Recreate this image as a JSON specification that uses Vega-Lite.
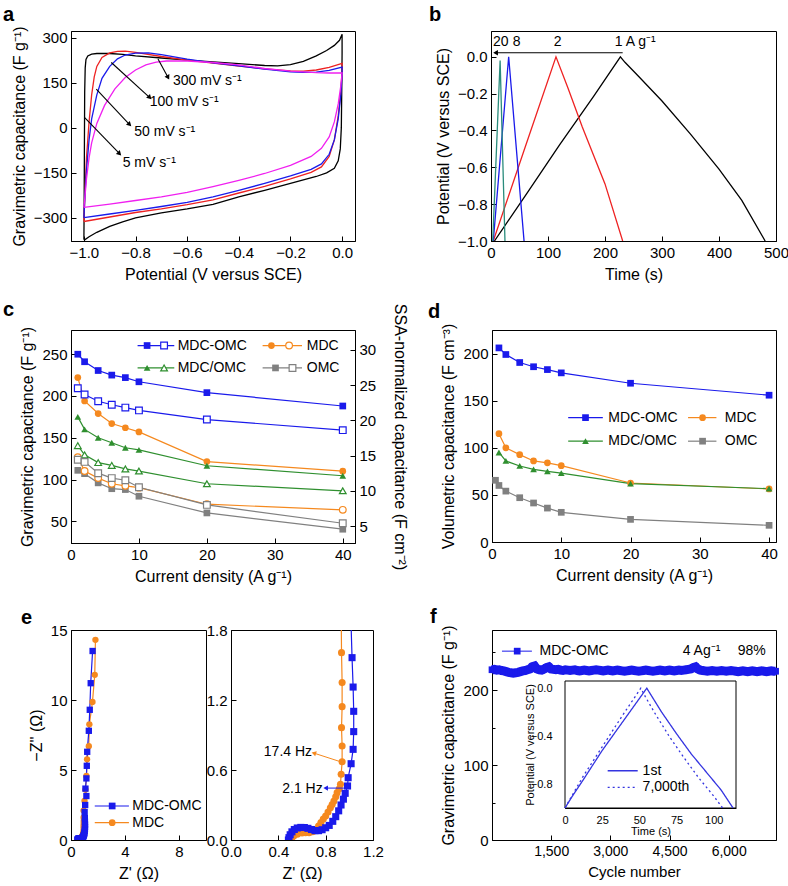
{
"$schema":"https://vega.github.io/schema/vega-lite/v6.json",
"background":"white",
"padding":{"left":2,"top":4,"right":4,"bottom":4},
"config":{
 "font":"Liberation Sans",
 "view":{"stroke":"black","strokeWidth":1},
 "axis":{"labelFont":"Liberation Sans","titleFont":"Liberation Sans","labelFontSize":15,"titleFontSize":16,"titleFontWeight":"normal","labelColor":"black","titleColor":"black","domainColor":"black","tickColor":"black","grid":false,"labelPadding":9,"titlePadding":6,"labelFlush":false,"labelOverlap":false,"tickSize":-5,"zindex":1},
 "title":{"anchor":"start","frame":"group","fontSize":20,"fontWeight":"bold","font":"Liberation Sans","color":"black","offset":6},
 "text":{"font":"Liberation Sans","fontSize":14,"color":"black"}
},
"datasets":{
 "cv":[
  {"r":"5","i":0,"x":-1.0,"y":-372},{"r":"5","i":1,"x":-0.999,"y":-250},{"r":"5","i":2,"x":-0.998,"y":-50},{"r":"5","i":3,"x":-0.997,"y":120},{"r":"5","i":4,"x":-0.995,"y":200},{"r":"5","i":5,"x":-0.992,"y":228},{"r":"5","i":6,"x":-0.985,"y":240},{"r":"5","i":7,"x":-0.97,"y":246},{"r":"5","i":8,"x":-0.95,"y":248},{"r":"5","i":9,"x":-0.9,"y":248},{"r":"5","i":10,"x":-0.85,"y":245},{"r":"5","i":11,"x":-0.8,"y":240},{"r":"5","i":12,"x":-0.7,"y":233},{"r":"5","i":13,"x":-0.6,"y":226},{"r":"5","i":14,"x":-0.5,"y":220},{"r":"5","i":15,"x":-0.4,"y":214},{"r":"5","i":16,"x":-0.3,"y":208},{"r":"5","i":17,"x":-0.25,"y":207},{"r":"5","i":18,"x":-0.2,"y":211},{"r":"5","i":19,"x":-0.15,"y":222},{"r":"5","i":20,"x":-0.1,"y":240},{"r":"5","i":21,"x":-0.06,"y":258},{"r":"5","i":22,"x":-0.03,"y":275},{"r":"5","i":23,"x":-0.01,"y":292},{"r":"5","i":24,"x":0.0,"y":312},{"r":"5","i":25,"x":0.0,"y":250},{"r":"5","i":26,"x":-0.001,"y":150},{"r":"5","i":27,"x":-0.003,"y":0},{"r":"5","i":28,"x":-0.007,"y":-70},{"r":"5","i":29,"x":-0.015,"y":-110},{"r":"5","i":30,"x":-0.03,"y":-135},{"r":"5","i":31,"x":-0.06,"y":-150},{"r":"5","i":32,"x":-0.1,"y":-162},{"r":"5","i":33,"x":-0.2,"y":-185},{"r":"5","i":34,"x":-0.3,"y":-208},{"r":"5","i":35,"x":-0.4,"y":-230},{"r":"5","i":36,"x":-0.5,"y":-255},{"r":"5","i":37,"x":-0.6,"y":-270},{"r":"5","i":38,"x":-0.7,"y":-283},{"r":"5","i":39,"x":-0.8,"y":-300},{"r":"5","i":40,"x":-0.85,"y":-313},{"r":"5","i":41,"x":-0.9,"y":-328},{"r":"5","i":42,"x":-0.95,"y":-348},{"r":"5","i":43,"x":-0.98,"y":-363},{"r":"5","i":44,"x":-1.0,"y":-375},
  {"r":"50","i":0,"x":-1.0,"y":-312},{"r":"50","i":1,"x":-0.995,"y":-200},{"r":"50","i":2,"x":-0.99,"y":-100},{"r":"50","i":3,"x":-0.98,"y":20},{"r":"50","i":4,"x":-0.97,"y":110},{"r":"50","i":5,"x":-0.96,"y":170},{"r":"50","i":6,"x":-0.95,"y":205},{"r":"50","i":7,"x":-0.93,"y":235},{"r":"50","i":8,"x":-0.9,"y":250},{"r":"50","i":9,"x":-0.87,"y":255},{"r":"50","i":10,"x":-0.84,"y":256},{"r":"50","i":11,"x":-0.8,"y":252},{"r":"50","i":12,"x":-0.7,"y":238},{"r":"50","i":13,"x":-0.6,"y":226},{"r":"50","i":14,"x":-0.5,"y":216},{"r":"50","i":15,"x":-0.4,"y":206},{"r":"50","i":16,"x":-0.3,"y":197},{"r":"50","i":17,"x":-0.2,"y":190},{"r":"50","i":18,"x":-0.15,"y":189},{"r":"50","i":19,"x":-0.1,"y":193},{"r":"50","i":20,"x":-0.05,"y":202},{"r":"50","i":21,"x":0.0,"y":215},{"r":"50","i":22,"x":0.0,"y":190},{"r":"50","i":23,"x":-0.005,"y":120},{"r":"50","i":24,"x":-0.015,"y":40},{"r":"50","i":25,"x":-0.03,"y":-40},{"r":"50","i":26,"x":-0.05,"y":-95},{"r":"50","i":27,"x":-0.08,"y":-130},{"r":"50","i":28,"x":-0.12,"y":-148},{"r":"50","i":29,"x":-0.2,"y":-170},{"r":"50","i":30,"x":-0.3,"y":-195},{"r":"50","i":31,"x":-0.4,"y":-217},{"r":"50","i":32,"x":-0.5,"y":-240},{"r":"50","i":33,"x":-0.6,"y":-256},{"r":"50","i":34,"x":-0.7,"y":-270},{"r":"50","i":35,"x":-0.8,"y":-282},{"r":"50","i":36,"x":-0.9,"y":-297},{"r":"50","i":37,"x":-1.0,"y":-312},
  {"r":"100","i":0,"x":-1.0,"y":-300},{"r":"100","i":1,"x":-0.995,"y":-210},{"r":"100","i":2,"x":-0.99,"y":-140},{"r":"100","i":3,"x":-0.98,"y":-40},{"r":"100","i":4,"x":-0.97,"y":30},{"r":"100","i":5,"x":-0.95,"y":110},{"r":"100","i":6,"x":-0.93,"y":165},{"r":"100","i":7,"x":-0.9,"y":205},{"r":"100","i":8,"x":-0.87,"y":230},{"r":"100","i":9,"x":-0.84,"y":243},{"r":"100","i":10,"x":-0.8,"y":249},{"r":"100","i":11,"x":-0.75,"y":250},{"r":"100","i":12,"x":-0.7,"y":244},{"r":"100","i":13,"x":-0.6,"y":229},{"r":"100","i":14,"x":-0.5,"y":217},{"r":"100","i":15,"x":-0.4,"y":207},{"r":"100","i":16,"x":-0.3,"y":196},{"r":"100","i":17,"x":-0.2,"y":187},{"r":"100","i":18,"x":-0.15,"y":185},{"r":"100","i":19,"x":-0.1,"y":186},{"r":"100","i":20,"x":-0.05,"y":192},{"r":"100","i":21,"x":0.0,"y":203},{"r":"100","i":22,"x":0.0,"y":180},{"r":"100","i":23,"x":-0.005,"y":110},{"r":"100","i":24,"x":-0.015,"y":30},{"r":"100","i":25,"x":-0.03,"y":-40},{"r":"100","i":26,"x":-0.05,"y":-88},{"r":"100","i":27,"x":-0.08,"y":-120},{"r":"100","i":28,"x":-0.12,"y":-138},{"r":"100","i":29,"x":-0.2,"y":-160},{"r":"100","i":30,"x":-0.3,"y":-185},{"r":"100","i":31,"x":-0.4,"y":-208},{"r":"100","i":32,"x":-0.5,"y":-230},{"r":"100","i":33,"x":-0.6,"y":-248},{"r":"100","i":34,"x":-0.7,"y":-262},{"r":"100","i":35,"x":-0.8,"y":-275},{"r":"100","i":36,"x":-0.9,"y":-287},{"r":"100","i":37,"x":-1.0,"y":-299},
  {"r":"300","i":0,"x":-1.0,"y":-265},{"r":"300","i":1,"x":-0.995,"y":-220},{"r":"300","i":2,"x":-0.99,"y":-170},{"r":"300","i":3,"x":-0.98,"y":-100},{"r":"300","i":4,"x":-0.97,"y":-50},{"r":"300","i":5,"x":-0.95,"y":15},{"r":"300","i":6,"x":-0.92,"y":75},{"r":"300","i":7,"x":-0.88,"y":130},{"r":"300","i":8,"x":-0.84,"y":168},{"r":"300","i":9,"x":-0.8,"y":193},{"r":"300","i":10,"x":-0.76,"y":210},{"r":"300","i":11,"x":-0.72,"y":219},{"r":"300","i":12,"x":-0.68,"y":223},{"r":"300","i":13,"x":-0.6,"y":223},{"r":"300","i":14,"x":-0.5,"y":218},{"r":"300","i":15,"x":-0.4,"y":210},{"r":"300","i":16,"x":-0.3,"y":198},{"r":"300","i":17,"x":-0.2,"y":189},{"r":"300","i":18,"x":-0.1,"y":184},{"r":"300","i":19,"x":-0.05,"y":183},{"r":"300","i":20,"x":0.0,"y":183},{"r":"300","i":21,"x":-0.005,"y":140},{"r":"300","i":22,"x":-0.015,"y":80},{"r":"300","i":23,"x":-0.03,"y":20},{"r":"300","i":24,"x":-0.05,"y":-30},{"r":"300","i":25,"x":-0.08,"y":-68},{"r":"300","i":26,"x":-0.12,"y":-95},{"r":"300","i":27,"x":-0.2,"y":-125},{"r":"300","i":28,"x":-0.3,"y":-152},{"r":"300","i":29,"x":-0.4,"y":-175},{"r":"300","i":30,"x":-0.5,"y":-196},{"r":"300","i":31,"x":-0.6,"y":-215},{"r":"300","i":32,"x":-0.7,"y":-230},{"r":"300","i":33,"x":-0.8,"y":-242},{"r":"300","i":34,"x":-0.9,"y":-254},{"r":"300","i":35,"x":-1.0,"y":-265}
 ],
 "cvann":[
  {"x":-0.713,"y":230,"x2":-0.674,"y2":168,"label":"300 mV s⁻¹","tx":-0.655,"ty":157},
  {"x":-0.894,"y":218,"x2":-0.745,"y2":101,"label":"100 mV s⁻¹","tx":-0.745,"ty":88},
  {"x":-0.952,"y":129,"x2":-0.823,"y2":11,"label":"50 mV s⁻¹","tx":-0.805,"ty":-12},
  {"x":-0.997,"y":34,"x2":-0.862,"y2":-86,"label":"5 mV s⁻¹","tx":-0.85,"ty":-118}
 ],
 "gcd":[
  {"r":"1","i":0,"t":6,"v":-1.0},{"r":"1","i":1,"t":60,"v":-0.755},{"r":"1","i":2,"t":120,"v":-0.48},{"r":"1","i":3,"t":180,"v":-0.215},{"r":"1","i":4,"t":227,"v":0.0},{"r":"1","i":5,"t":235,"v":-0.03},{"r":"1","i":6,"t":260,"v":-0.11},{"r":"1","i":7,"t":300,"v":-0.24},{"r":"1","i":8,"t":350,"v":-0.42},{"r":"1","i":9,"t":400,"v":-0.61},{"r":"1","i":10,"t":440,"v":-0.78},{"r":"1","i":11,"t":481,"v":-1.0},
  {"r":"2","i":0,"t":4,"v":-1.0},{"r":"2","i":1,"t":60,"v":-0.49},{"r":"2","i":2,"t":114,"v":0.0},{"r":"2","i":3,"t":135,"v":-0.17},{"r":"2","i":4,"t":160,"v":-0.38},{"r":"2","i":5,"t":200,"v":-0.69},{"r":"2","i":6,"t":231,"v":-1.0},
  {"r":"8","i":0,"t":4,"v":-1.0},{"r":"8","i":1,"t":31,"v":0.0},{"r":"8","i":2,"t":58,"v":-1.0},
  {"r":"20","i":0,"t":3,"v":-1.0},{"r":"20","i":1,"t":16,"v":-0.02},{"r":"20","i":2,"t":24.5,"v":-1.0}
 ],
 "gcdann":[
  {"label":"20","t":17,"v":0.082},{"label":"8","t":45,"v":0.082},{"label":"2","t":117,"v":0.082},{"label":"1 A g⁻¹","t":253,"v":0.082}
 ],
 "gcdarrow":[{"t":231,"t2":8,"v":0.022}],
 "cden":[
  {"s":"MDC-OMC","x":1,"g":250,"a":24.55},{"s":"MDC-OMC","x":2,"g":241,"a":23.66},{"s":"MDC-OMC","x":4,"g":230.5,"a":22.7},{"s":"MDC-OMC","x":6,"g":225,"a":22.2},{"s":"MDC-OMC","x":8,"g":222,"a":21.8},{"s":"MDC-OMC","x":10,"g":217,"a":21.4},{"s":"MDC-OMC","x":20,"g":204,"a":20.1},{"s":"MDC-OMC","x":40,"g":188,"a":18.6},
  {"s":"MDC","x":1,"g":222,"a":14.75},{"s":"MDC","x":2,"g":194,"a":12.8},{"s":"MDC","x":4,"g":179,"a":11.8},{"s":"MDC","x":6,"g":167,"a":11.0},{"s":"MDC","x":8,"g":162,"a":10.7},{"s":"MDC","x":10,"g":157,"a":10.45},{"s":"MDC","x":20,"g":121.5,"a":8.1},{"s":"MDC","x":40,"g":110,"a":7.3},
  {"s":"MDC/OMC","x":1,"g":175,"a":16.4},{"s":"MDC/OMC","x":2,"g":160,"a":15.1},{"s":"MDC/OMC","x":4,"g":150,"a":14.0},{"s":"MDC/OMC","x":6,"g":144,"a":13.6},{"s":"MDC/OMC","x":8,"g":138,"a":13.1},{"s":"MDC/OMC","x":10,"g":135.5,"a":12.8},{"s":"MDC/OMC","x":20,"g":116.5,"a":11.0},{"s":"MDC/OMC","x":40,"g":104.5,"a":10.0},
  {"s":"OMC","x":1,"g":111,"a":14.4},{"s":"OMC","x":2,"g":107,"a":14.1},{"s":"OMC","x":4,"g":96,"a":12.5},{"s":"OMC","x":6,"g":89,"a":11.8},{"s":"OMC","x":8,"g":88,"a":11.5},{"s":"OMC","x":10,"g":80,"a":10.5},{"s":"OMC","x":20,"g":60,"a":8.0},{"s":"OMC","x":40,"g":40.5,"a":5.4}
 ],
 "cleg":[
  {"s":"MDC-OMC","x1":9.8,"x2":15.2,"xf":11.2,"xo":13.7,"xt":15.7,"y":260.4},
  {"s":"MDC","x1":28.2,"x2":34.0,"xf":29.5,"xo":32.1,"xt":34.7,"y":260.4},
  {"s":"MDC/OMC","x1":9.8,"x2":15.2,"xf":11.2,"xo":13.7,"xt":15.7,"y":233.6},
  {"s":"OMC","x1":28.2,"x2":34.0,"xf":30.1,"xo":32.6,"xt":34.7,"y":233.6}
 ],
 "dden":[
  {"s":"MDC-OMC","x":1,"v":206},{"s":"MDC-OMC","x":2,"v":199},{"s":"MDC-OMC","x":4,"v":190.5},{"s":"MDC-OMC","x":6,"v":186},{"s":"MDC-OMC","x":8,"v":183},{"s":"MDC-OMC","x":10,"v":179.5},{"s":"MDC-OMC","x":20,"v":168.5},{"s":"MDC-OMC","x":40,"v":155.8},
  {"s":"MDC","x":1,"v":115},{"s":"MDC","x":2,"v":100},{"s":"MDC","x":4,"v":92.7},{"s":"MDC","x":6,"v":86},{"s":"MDC","x":8,"v":84},{"s":"MDC","x":10,"v":81},{"s":"MDC","x":20,"v":62.6},{"s":"MDC","x":40,"v":56.3},
  {"s":"MDC/OMC","x":1,"v":95},{"s":"MDC/OMC","x":2,"v":86},{"s":"MDC/OMC","x":4,"v":80.7},{"s":"MDC/OMC","x":6,"v":77},{"s":"MDC/OMC","x":8,"v":75},{"s":"MDC/OMC","x":10,"v":73},{"s":"MDC/OMC","x":20,"v":62},{"s":"MDC/OMC","x":40,"v":56.6},
  {"s":"OMC","x":0.5,"v":65.5},{"s":"OMC","x":1,"v":60},{"s":"OMC","x":2,"v":54},{"s":"OMC","x":4,"v":47},{"s":"OMC","x":6,"v":41.4},{"s":"OMC","x":8,"v":36},{"s":"OMC","x":10,"v":31.5},{"s":"OMC","x":20,"v":24},{"s":"OMC","x":40,"v":17.7}
 ],
 "dleg":[
  {"s":"MDC-OMC","x1":11.0,"x2":16.0,"xm":13.5,"xt":16.8,"y":132},
  {"s":"MDC","x1":28.3,"x2":32.4,"xm":30.4,"xt":33.6,"y":132},
  {"s":"MDC/OMC","x1":11.0,"x2":16.0,"xm":13.5,"xt":16.8,"y":107},
  {"s":"OMC","x1":28.3,"x2":32.4,"xm":30.4,"xt":33.6,"y":107}
 ],
 "nyq":[
  {"s":"MDC","i":0,"x":0.505,"y":0.0},{"s":"MDC","i":1,"x":0.515,"y":0.02},{"s":"MDC","i":2,"x":0.53,"y":0.035},{"s":"MDC","i":3,"x":0.56,"y":0.05},{"s":"MDC","i":4,"x":0.6,"y":0.06},{"s":"MDC","i":5,"x":0.63,"y":0.063},{"s":"MDC","i":6,"x":0.66,"y":0.062},{"s":"MDC","i":7,"x":0.69,"y":0.07},{"s":"MDC","i":8,"x":0.715,"y":0.09},{"s":"MDC","i":9,"x":0.74,"y":0.12},{"s":"MDC","i":10,"x":0.76,"y":0.15},{"s":"MDC","i":11,"x":0.78,"y":0.18},{"s":"MDC","i":12,"x":0.8,"y":0.206},{"s":"MDC","i":13,"x":0.82,"y":0.24},{"s":"MDC","i":14,"x":0.84,"y":0.277},{"s":"MDC","i":15,"x":0.855,"y":0.305},{"s":"MDC","i":16,"x":0.87,"y":0.334},{"s":"MDC","i":17,"x":0.885,"y":0.37},{"s":"MDC","i":18,"x":0.897,"y":0.406},{"s":"MDC","i":19,"x":0.915,"y":0.44},{"s":"MDC","i":20,"x":0.925,"y":0.477},{"s":"MDC","i":21,"x":0.931,"y":0.563},{"s":"MDC","i":22,"x":0.939,"y":0.671},{"s":"MDC","i":23,"x":0.939,"y":0.806},{"s":"MDC","i":24,"x":0.934,"y":0.963},{"s":"MDC","i":25,"x":0.939,"y":1.143},{"s":"MDC","i":26,"x":0.939,"y":1.349},{"s":"MDC","i":27,"x":0.934,"y":1.606},{"s":"MDC","i":28,"x":0.93,"y":2.1},{"s":"MDC","i":29,"x":1.0,"y":2.8},{"s":"MDC","i":30,"x":1.07,"y":3.6},{"s":"MDC","i":31,"x":1.14,"y":4.57},{"s":"MDC","i":32,"x":1.19,"y":5.76},{"s":"MDC","i":33,"x":1.32,"y":6.7},{"s":"MDC","i":34,"x":1.36,"y":8.26},{"s":"MDC","i":35,"x":1.59,"y":9.86},{"s":"MDC","i":36,"x":1.76,"y":11.8},{"s":"MDC","i":37,"x":1.81,"y":14.3},
  {"s":"MDC-OMC","i":0,"x":0.485,"y":0.0},{"s":"MDC-OMC","i":1,"x":0.49,"y":0.02},{"s":"MDC-OMC","i":2,"x":0.5,"y":0.045},{"s":"MDC-OMC","i":3,"x":0.515,"y":0.07},{"s":"MDC-OMC","i":4,"x":0.535,"y":0.09},{"s":"MDC-OMC","i":5,"x":0.56,"y":0.103},{"s":"MDC-OMC","i":6,"x":0.59,"y":0.108},{"s":"MDC-OMC","i":7,"x":0.62,"y":0.107},{"s":"MDC-OMC","i":8,"x":0.65,"y":0.1},{"s":"MDC-OMC","i":9,"x":0.68,"y":0.09},{"s":"MDC-OMC","i":10,"x":0.71,"y":0.08},{"s":"MDC-OMC","i":11,"x":0.74,"y":0.08},{"s":"MDC-OMC","i":12,"x":0.77,"y":0.088},{"s":"MDC-OMC","i":13,"x":0.8,"y":0.105},{"s":"MDC-OMC","i":14,"x":0.83,"y":0.125},{"s":"MDC-OMC","i":15,"x":0.86,"y":0.16},{"s":"MDC-OMC","i":16,"x":0.885,"y":0.2},{"s":"MDC-OMC","i":17,"x":0.91,"y":0.25},{"s":"MDC-OMC","i":18,"x":0.93,"y":0.3},{"s":"MDC-OMC","i":19,"x":0.95,"y":0.35},{"s":"MDC-OMC","i":20,"x":0.965,"y":0.4},{"s":"MDC-OMC","i":21,"x":0.985,"y":0.463},{"s":"MDC-OMC","i":22,"x":0.99,"y":0.534},{"s":"MDC-OMC","i":23,"x":1.015,"y":0.654},{"s":"MDC-OMC","i":24,"x":1.032,"y":0.777},{"s":"MDC-OMC","i":25,"x":1.037,"y":0.929},{"s":"MDC-OMC","i":26,"x":1.037,"y":1.103},{"s":"MDC-OMC","i":27,"x":1.032,"y":1.311},{"s":"MDC-OMC","i":28,"x":1.023,"y":1.563},{"s":"MDC-OMC","i":29,"x":1.01,"y":2.0},{"s":"MDC-OMC","i":30,"x":1.05,"y":2.5},{"s":"MDC-OMC","i":31,"x":1.14,"y":3.14},{"s":"MDC-OMC","i":32,"x":1.07,"y":3.67},{"s":"MDC-OMC","i":33,"x":1.14,"y":4.4},{"s":"MDC-OMC","i":34,"x":1.17,"y":5.3},{"s":"MDC-OMC","i":35,"x":1.2,"y":6.3},{"s":"MDC-OMC","i":36,"x":1.32,"y":7.8},{"s":"MDC-OMC","i":37,"x":1.39,"y":9.3},{"s":"MDC-OMC","i":38,"x":1.46,"y":11.2},{"s":"MDC-OMC","i":39,"x":1.6,"y":13.5}
 ],
 "eleg":[
  {"s":"MDC-OMC","x1":1.76,"x2":4.29,"xm":3.05,"xt":4.54,"y":2.43},
  {"s":"MDC","x1":1.76,"x2":4.29,"xm":3.05,"xt":4.54,"y":1.24}
 ],
 "eann":[
  {"s":"MDC","x":0.925,"y":0.671,"x2":0.70,"y2":0.745,"label":"17.4 Hz","tx":0.685,"ty":0.757},
  {"s":"MDC-OMC","x":0.975,"y":0.445,"x2":0.8,"y2":0.445,"label":"2.1 Hz","tx":0.775,"ty":0.44}
 ],
 "cyc":[
  {"c":0,"y":227},{"c":60,"y":227.5},{"c":120,"y":226.5},{"c":180,"y":227},{"c":240,"y":226},{"c":300,"y":225.5},{"c":360,"y":224.5},{"c":420,"y":223.5},{"c":480,"y":223},{"c":540,"y":222.5},{"c":600,"y":223},{"c":660,"y":223.5},{"c":720,"y":224.5},{"c":780,"y":225.5},{"c":840,"y":226},{"c":900,"y":227},{"c":960,"y":228},{"c":1020,"y":231},{"c":1080,"y":232},{"c":1140,"y":228},{"c":1200,"y":227},{"c":1260,"y":226.5},{"c":1320,"y":228},{"c":1380,"y":230},{"c":1440,"y":231},{"c":1500,"y":228},{"c":1560,"y":227.5},{"c":1620,"y":227},{"c":1680,"y":227.5},{"c":1740,"y":226.5},{"c":1800,"y":226},{"c":1860,"y":227},{"c":1920,"y":226.5},{"c":1980,"y":226},{"c":2040,"y":226.5},{"c":2100,"y":227},{"c":2160,"y":226},{"c":2220,"y":225.5},{"c":2280,"y":226},{"c":2340,"y":226.5},{"c":2400,"y":226},{"c":2460,"y":225.5},{"c":2520,"y":226},{"c":2580,"y":226.5},{"c":2640,"y":227},{"c":2700,"y":226.5},{"c":2760,"y":226},{"c":2820,"y":225.5},{"c":2880,"y":226},{"c":2940,"y":226.5},{"c":3000,"y":226},{"c":3060,"y":225.5},{"c":3120,"y":226},{"c":3180,"y":226.5},{"c":3240,"y":226},{"c":3300,"y":225.5},{"c":3360,"y":225},{"c":3420,"y":225.5},{"c":3480,"y":226},{"c":3540,"y":226.5},{"c":3600,"y":226},{"c":3660,"y":225.5},{"c":3720,"y":225},{"c":3780,"y":225.5},{"c":3840,"y":226},{"c":3900,"y":226.5},{"c":3960,"y":226},{"c":4020,"y":225.5},{"c":4080,"y":225},{"c":4140,"y":225.5},{"c":4200,"y":226},{"c":4260,"y":226.5},{"c":4320,"y":226},{"c":4380,"y":225.5},{"c":4440,"y":226},{"c":4500,"y":226.5},{"c":4560,"y":226},{"c":4620,"y":225.5},{"c":4680,"y":226},{"c":4740,"y":226.5},{"c":4800,"y":226},{"c":4860,"y":226.5},{"c":4920,"y":227},{"c":4980,"y":227.5},{"c":5040,"y":228},{"c":5100,"y":230},{"c":5160,"y":231},{"c":5220,"y":228},{"c":5280,"y":226.5},{"c":5340,"y":226},{"c":5400,"y":225.5},{"c":5460,"y":225},{"c":5520,"y":225.5},{"c":5580,"y":226},{"c":5640,"y":225.5},{"c":5700,"y":225},{"c":5760,"y":225.5},{"c":5820,"y":226},{"c":5880,"y":225.5},{"c":5940,"y":225},{"c":6000,"y":225.5},{"c":6060,"y":226},{"c":6120,"y":225.5},{"c":6180,"y":225},{"c":6240,"y":224.5},{"c":6300,"y":225},{"c":6360,"y":225.5},{"c":6420,"y":225},{"c":6480,"y":224.5},{"c":6540,"y":225},{"c":6600,"y":225.5},{"c":6660,"y":225},{"c":6720,"y":224.5},{"c":6780,"y":225},{"c":6840,"y":225.5},{"c":6900,"y":225},{"c":6960,"y":224.5},{"c":7020,"y":225},{"c":7080,"y":225.5},{"c":7140,"y":225},{"c":7190,"y":225}
 ],
 "fline":[{"x1":253,"x2":1012,"xm":639,"y":251.8}],
 "ftext":[{"label":"MDC-OMC","c":1204,"y":251.8},{"label":"4 Ag⁻¹","c":4835,"y":251.8},{"label":"98%","c":6228,"y":251.8}],
 "ins":[
  {"s":"1st","i":0,"t":0,"v":-1.0},{"s":"1st","i":1,"t":5,"v":-0.9},{"s":"1st","i":2,"t":12,"v":-0.77},{"s":"1st","i":3,"t":25,"v":-0.52},{"s":"1st","i":4,"t":40,"v":-0.26},{"s":"1st","i":5,"t":55,"v":0.0},{"s":"1st","i":6,"t":58,"v":-0.06},{"s":"1st","i":7,"t":65,"v":-0.2},{"s":"1st","i":8,"t":75,"v":-0.38},{"s":"1st","i":9,"t":85,"v":-0.55},{"s":"1st","i":10,"t":95,"v":-0.7},{"s":"1st","i":11,"t":105,"v":-0.85},{"s":"1st","i":12,"t":113,"v":-1.0},
  {"s":"7,000th","i":0,"t":0,"v":-1.0},{"s":"7,000th","i":1,"t":5,"v":-0.89},{"s":"7,000th","i":2,"t":12,"v":-0.74},{"s":"7,000th","i":3,"t":25,"v":-0.49},{"s":"7,000th","i":4,"t":38,"v":-0.24},{"s":"7,000th","i":5,"t":51,"v":0.0},{"s":"7,000th","i":6,"t":54,"v":-0.07},{"s":"7,000th","i":7,"t":60,"v":-0.2},{"s":"7,000th","i":8,"t":70,"v":-0.4},{"s":"7,000th","i":9,"t":80,"v":-0.58},{"s":"7,000th","i":10,"t":90,"v":-0.75},{"s":"7,000th","i":11,"t":100,"v":-0.9},{"s":"7,000th","i":12,"t":106,"v":-1.0}
 ],
 "insleg":[{"s":"1st","x1":28.7,"x2":48.9,"xt":52.2,"y":-0.689},{"s":"7,000th","x1":28.7,"x2":48.9,"xt":52.2,"y":-0.828}]
},
"spacing":21,
"resolve":{"scale":{"color":"independent","shape":"independent","stroke":"independent","strokeDash":"independent"}},
"vconcat":[
 {"spacing":16,"resolve":{"scale":{"color":"independent","shape":"independent","stroke":"independent","strokeDash":"independent"}},
  "vconcat":[
  {"spacing":72,"resolve":{"scale":{"color":"independent","shape":"independent","stroke":"independent","strokeDash":"independent"}},
   "hconcat":[
   {"width":284,"height":210,"title":{"text":"a","dx":-68,"offset":1},
    "layer":[
     {"data":{"name":"cv"},"mark":{"type":"line","strokeWidth":1.3,"clip":true},
      "encoding":{
       "x":{"field":"x","type":"quantitative","scale":{"domain":[-1.05,0.05],"nice":false,"zero":false},"axis":{"title":"Potential (V versus SCE)","values":[-1,-0.9,-0.8,-0.7,-0.6,-0.5,-0.4,-0.3,-0.2,-0.1,0],"labelExpr":"round(datum.value*10)%2===0 ? format(datum.value,'.1f') : ''","tickSize":{"condition":{"test":"round(datum.value*10)%2!==0","value":-3},"value":-5}}},
       "y":{"field":"y","type":"quantitative","scale":{"domain":[-377,323],"nice":false,"zero":false},"axis":{"title":"Gravimetric capacitance (F g⁻¹)","values":[-300,-225,-150,-75,0,75,150,225,300],"labelExpr":"datum.value%150===0 ? datum.label : ''","tickSize":{"condition":{"test":"datum.value%150!==0","value":-3},"value":-5}}},
       "color":{"field":"r","type":"nominal","scale":{"domain":["300","100","50","5"],"range":["#f020f0","#1a1aeb","#ee2222","#000000"]},"legend":null},
       "order":{"field":"i","type":"quantitative"}}},
     {"data":{"name":"cvann"},"mark":{"type":"rule","strokeWidth":1.1,"color":"black"},
      "encoding":{"x":{"field":"x","type":"quantitative"},"x2":{"field":"x2"},"y":{"field":"y","type":"quantitative"},"y2":{"field":"y2"}}},
     {"data":{"name":"cvann"},"transform":[{"filter":"datum.y2 < 150"}],"mark":{"type":"point","shape":"triangle-right","filled":true,"size":30,"angle":45,"color":"black","opacity":1},
      "encoding":{"x":{"field":"x2","type":"quantitative"},"y":{"field":"y2","type":"quantitative"}}},
     {"data":{"name":"cvann"},"transform":[{"filter":"datum.y2 >= 150"}],"mark":{"type":"point","shape":"triangle-right","filled":true,"size":30,"angle":62,"color":"black","opacity":1},
      "encoding":{"x":{"field":"x2","type":"quantitative"},"y":{"field":"y2","type":"quantitative"}}},
     {"data":{"name":"cvann"},"mark":{"type":"text","align":"left","baseline":"middle","fontSize":14},
      "encoding":{"x":{"field":"tx","type":"quantitative"},"y":{"field":"ty","type":"quantitative"},"text":{"field":"label"}}}
    ]},
   {"width":285,"height":210,"title":{"text":"b","dx":-62,"offset":6},
    "layer":[
     {"data":{"name":"gcd"},"mark":{"type":"line","strokeWidth":1.3,"clip":true},
      "encoding":{
       "x":{"field":"t","type":"quantitative","scale":{"domain":[0,500],"nice":false,"zero":false},"axis":{"title":"Time (s)","values":[0,50,100,150,200,250,300,350,400,450,500],"labelExpr":"datum.value%100===0 ? datum.label : ''","tickSize":{"condition":{"test":"datum.value%100!==0","value":-3},"value":-5}}},
       "y":{"field":"v","type":"quantitative","scale":{"domain":[-1.0,0.14],"nice":false,"zero":false},"axis":{"title":"Potential (V versus SCE)","values":[-1,-0.9,-0.8,-0.7,-0.6,-0.5,-0.4,-0.3,-0.2,-0.1,0,0.1],"labelExpr":"round(datum.value*10)%2===0 ? format(datum.value,'.1f') : ''","tickSize":{"condition":{"test":"round(datum.value*10)%2!==0","value":-3},"value":-5}}},
       "color":{"field":"r","type":"nominal","scale":{"domain":["1","2","8","20"],"range":["#000000","#ee2222","#1a1aeb","#2a8c7c"]},"legend":null},
       "order":{"field":"i","type":"quantitative"}}},
     {"data":{"name":"gcdarrow"},"mark":{"type":"rule","strokeWidth":1.1,"color":"black"},
      "encoding":{"x":{"field":"t","type":"quantitative"},"x2":{"field":"t2"},"y":{"field":"v","type":"quantitative"}}},
     {"data":{"name":"gcdarrow"},"mark":{"type":"point","shape":"triangle-left","filled":true,"size":30,"color":"black","opacity":1},
      "encoding":{"x":{"field":"t2","type":"quantitative"},"y":{"field":"v","type":"quantitative"}}},
     {"data":{"name":"gcdann"},"mark":{"type":"text","align":"center","baseline":"middle","fontSize":14},
      "encoding":{"x":{"field":"t","type":"quantitative"},"y":{"field":"v","type":"quantitative"},"text":{"field":"label"}}}
    ]}
  ]},
  {"spacing":18,"resolve":{"scale":{"color":"independent","shape":"independent","stroke":"independent","strokeDash":"independent"}},
   "hconcat":[
   {"width":284,"height":213,"title":{"text":"c","dx":-68,"offset":-17},
    "resolve":{"scale":{"y":"independent"}},
    "layer":[
     {"layer":[
      {"data":{"name":"cden"},"mark":{"type":"line","strokeWidth":1.2},
       "encoding":{
        "x":{"field":"x","type":"quantitative","scale":{"domain":[0,41.8],"nice":false,"zero":false},"axis":{"title":"Current density (A g⁻¹)","values":[0,2.5,5,7.5,10,12.5,15,17.5,20,22.5,25,27.5,30,32.5,35,37.5,40],"labelExpr":"datum.value%5===0 ? datum.label : ''","tickSize":{"condition":{"test":"datum.value%5!==0","value":-3},"value":-5}}},
        "y":{"field":"g","type":"quantitative","scale":{"domain":[24,279],"nice":false,"zero":false},"axis":{"title":"Gravimetric capacitance (F g⁻¹)","orient":"left","values":[50,75,100,125,150,175,200,225,250,275],"labelExpr":"datum.value%50===0 ? datum.label : ''","tickSize":{"condition":{"test":"datum.value%50!==0","value":-3},"value":-5}}},
        "color":{"field":"s","type":"nominal","scale":{"domain":["MDC-OMC","MDC","MDC/OMC","OMC"],"range":["#1a1aeb","#f5891f","#2f8f2f","#808080"]},"legend":null}}},
      {"data":{"name":"cden"},"mark":{"type":"point","filled":true,"size":45,"opacity":1},
       "encoding":{"x":{"field":"x","type":"quantitative"},"y":{"field":"g","type":"quantitative"},
        "color":{"field":"s","type":"nominal","scale":{"domain":["MDC-OMC","MDC","MDC/OMC","OMC"],"range":["#1a1aeb","#f5891f","#2f8f2f","#808080"]},"legend":null},
        "shape":{"field":"s","type":"nominal","scale":{"domain":["MDC-OMC","MDC","MDC/OMC","OMC"],"range":["square","circle","triangle-up","square"]},"legend":null}}},
      {"data":{"name":"cleg"},"mark":{"type":"rule","strokeWidth":1.2},
       "encoding":{"x":{"field":"x1","type":"quantitative"},"x2":{"field":"x2"},"y":{"field":"y","type":"quantitative"},
        "color":{"field":"s","type":"nominal","scale":{"domain":["MDC-OMC","MDC","MDC/OMC","OMC"],"range":["#1a1aeb","#f5891f","#2f8f2f","#808080"]},"legend":null}}},
      {"data":{"name":"cleg"},"mark":{"type":"point","filled":true,"size":45,"opacity":1},
       "encoding":{"x":{"field":"xf","type":"quantitative"},"y":{"field":"y","type":"quantitative"},
        "color":{"field":"s","type":"nominal","scale":{"domain":["MDC-OMC","MDC","MDC/OMC","OMC"],"range":["#1a1aeb","#f5891f","#2f8f2f","#808080"]},"legend":null},
        "shape":{"field":"s","type":"nominal","scale":{"domain":["MDC-OMC","MDC","MDC/OMC","OMC"],"range":["square","circle","triangle-up","square"]},"legend":null}}},
      {"data":{"name":"cleg"},"mark":{"type":"point","filled":true,"fill":"white","strokeWidth":1.2,"size":45,"opacity":1},
       "encoding":{"x":{"field":"xo","type":"quantitative"},"y":{"field":"y","type":"quantitative"},
        "stroke":{"field":"s","type":"nominal","scale":{"domain":["MDC-OMC","MDC","MDC/OMC","OMC"],"range":["#1a1aeb","#f5891f","#2f8f2f","#808080"]},"legend":null},
        "shape":{"field":"s","type":"nominal","scale":{"domain":["MDC-OMC","MDC","MDC/OMC","OMC"],"range":["square","circle","triangle-up","square"]},"legend":null}}},
      {"data":{"name":"cleg"},"mark":{"type":"text","align":"left","baseline":"middle","fontSize":14},
       "encoding":{"x":{"field":"xt","type":"quantitative"},"y":{"field":"y","type":"quantitative"},"text":{"field":"s"}}}
     ]},
     {"layer":[
      {"data":{"name":"cden"},"mark":{"type":"line","strokeWidth":1.2},
       "encoding":{"x":{"field":"x","type":"quantitative"},
        "y":{"field":"a","type":"quantitative","scale":{"domain":[2.6,32.8],"nice":false,"zero":false},"axis":{"title":"SSA-normalized capacitance (F cm⁻²)","orient":"right","titlePadding":16,"values":[5,7.5,10,12.5,15,17.5,20,22.5,25,27.5,30,32.5],"labelExpr":"datum.value%5===0 ? datum.label : ''","tickSize":{"condition":{"test":"datum.value%5!==0","value":-3},"value":-5}}},
        "color":{"field":"s","type":"nominal","scale":{"domain":["MDC-OMC","MDC","MDC/OMC","OMC"],"range":["#1a1aeb","#f5891f","#2f8f2f","#808080"]},"legend":null}}},
      {"data":{"name":"cden"},"mark":{"type":"point","filled":true,"fill":"white","strokeWidth":1.2,"size":45,"opacity":1},
       "encoding":{"x":{"field":"x","type":"quantitative"},"y":{"field":"a","type":"quantitative"},
        "stroke":{"field":"s","type":"nominal","scale":{"domain":["MDC-OMC","MDC","MDC/OMC","OMC"],"range":["#1a1aeb","#f5891f","#2f8f2f","#808080"]},"legend":null},
        "shape":{"field":"s","type":"nominal","scale":{"domain":["MDC-OMC","MDC","MDC/OMC","OMC"],"range":["square","circle","triangle-up","square"]},"legend":null}}}
     ]}
    ]},
   {"width":284,"height":212,"title":{"text":"d","dx":-64,"offset":1},
    "layer":[
     {"data":{"name":"dden"},"mark":{"type":"line","strokeWidth":1.2},
      "encoding":{
       "x":{"field":"x","type":"quantitative","scale":{"domain":[0,41],"nice":false,"zero":false},"axis":{"title":"Current density (A g⁻¹)","values":[0,2.5,5,7.5,10,12.5,15,17.5,20,22.5,25,27.5,30,32.5,35,37.5,40],"labelExpr":"datum.value%5===0 ? datum.label : ''","tickSize":{"condition":{"test":"datum.value%5!==0","value":-3},"value":-5}}},
       "y":{"field":"v","type":"quantitative","scale":{"domain":[0,225],"nice":false,"zero":false},"axis":{"title":"Volumetric capacitance (F cm⁻³)","values":[0,25,50,75,100,125,150,175,200],"labelExpr":"datum.value%50===0 ? datum.label : ''","tickSize":{"condition":{"test":"datum.value%50!==0","value":-3},"value":-5}}},
       "color":{"field":"s","type":"nominal","scale":{"domain":["MDC-OMC","MDC","MDC/OMC","OMC"],"range":["#1a1aeb","#f5891f","#2f8f2f","#808080"]},"legend":null}}},
     {"data":{"name":"dden"},"mark":{"type":"point","filled":true,"size":45,"opacity":1},
      "encoding":{"x":{"field":"x","type":"quantitative"},"y":{"field":"v","type":"quantitative"},
       "color":{"field":"s","type":"nominal","scale":{"domain":["MDC-OMC","MDC","MDC/OMC","OMC"],"range":["#1a1aeb","#f5891f","#2f8f2f","#808080"]},"legend":null},
       "shape":{"field":"s","type":"nominal","scale":{"domain":["MDC-OMC","MDC","MDC/OMC","OMC"],"range":["square","circle","triangle-up","square"]},"legend":null}}},
     {"data":{"name":"dleg"},"mark":{"type":"rule","strokeWidth":1.2},
      "encoding":{"x":{"field":"x1","type":"quantitative"},"x2":{"field":"x2"},"y":{"field":"y","type":"quantitative"},
       "color":{"field":"s","type":"nominal","scale":{"domain":["MDC-OMC","MDC","MDC/OMC","OMC"],"range":["#1a1aeb","#f5891f","#2f8f2f","#808080"]},"legend":null}}},
     {"data":{"name":"dleg"},"mark":{"type":"point","filled":true,"size":45,"opacity":1},
      "encoding":{"x":{"field":"xm","type":"quantitative"},"y":{"field":"y","type":"quantitative"},
       "color":{"field":"s","type":"nominal","scale":{"domain":["MDC-OMC","MDC","MDC/OMC","OMC"],"range":["#1a1aeb","#f5891f","#2f8f2f","#808080"]},"legend":null},
       "shape":{"field":"s","type":"nominal","scale":{"domain":["MDC-OMC","MDC","MDC/OMC","OMC"],"range":["square","circle","triangle-up","square"]},"legend":null}}},
     {"data":{"name":"dleg"},"mark":{"type":"text","align":"left","baseline":"middle","fontSize":14},
      "encoding":{"x":{"field":"xt","type":"quantitative"},"y":{"field":"y","type":"quantitative"},"text":{"field":"s"}}}
    ]}
  ]}
 ]},
 {"spacing":45,"resolve":{"scale":{"color":"independent","shape":"independent","stroke":"independent","strokeDash":"independent"}},
  "hconcat":[
  {"spacing":25,"bounds":"flush","resolve":{"scale":{"color":"independent","shape":"independent","stroke":"independent","strokeDash":"independent"}},
   "hconcat":[
   {"width":135,"height":210,"title":{"text":"e","dx":-50,"offset":-5},
    "layer":[
     {"data":{"name":"nyq"},"mark":{"type":"line","strokeWidth":1.2,"clip":true},
      "encoding":{
       "x":{"field":"x","type":"quantitative","scale":{"domain":[0,10],"nice":false,"zero":false},"axis":{"title":"Z' (Ω)","values":[0,1,2,3,4,5,6,7,8,9,10],"labelExpr":"datum.value%2===0 ? datum.label : ''","tickSize":{"condition":{"test":"datum.value%2!==0","value":-3},"value":-5}}},
       "y":{"field":"y","type":"quantitative","scale":{"domain":[0,15],"nice":false,"zero":false},"axis":{"title":"−Z'' (Ω)","values":[0,2.5,5,7.5,10,12.5,15],"labelExpr":"datum.value%5===0 ? datum.label : ''","tickSize":{"condition":{"test":"datum.value%5!==0","value":-3},"value":-5}}},
       "color":{"field":"s","type":"nominal","scale":{"domain":["MDC-OMC","MDC"],"range":["#1a1aeb","#f5891f"]},"legend":null},
       "order":{"field":"i","type":"quantitative"}}},
     {"data":{"name":"nyq"},"mark":{"type":"point","filled":true,"size":40,"opacity":1,"clip":true},
      "encoding":{"x":{"field":"x","type":"quantitative"},"y":{"field":"y","type":"quantitative"},
       "color":{"field":"s","type":"nominal","scale":{"domain":["MDC-OMC","MDC"],"range":["#1a1aeb","#f5891f"]},"legend":null},
       "shape":{"field":"s","type":"nominal","scale":{"domain":["MDC-OMC","MDC"],"range":["square","circle"]},"legend":null}}},
     {"data":{"name":"eleg"},"mark":{"type":"rule","strokeWidth":1.2},
      "encoding":{"x":{"field":"x1","type":"quantitative"},"x2":{"field":"x2"},"y":{"field":"y","type":"quantitative"},
       "color":{"field":"s","type":"nominal","scale":{"domain":["MDC-OMC","MDC"],"range":["#1a1aeb","#f5891f"]},"legend":null}}},
     {"data":{"name":"eleg"},"mark":{"type":"point","filled":true,"size":45,"opacity":1},
      "encoding":{"x":{"field":"xm","type":"quantitative"},"y":{"field":"y","type":"quantitative"},
       "color":{"field":"s","type":"nominal","scale":{"domain":["MDC-OMC","MDC"],"range":["#1a1aeb","#f5891f"]},"legend":null},
       "shape":{"field":"s","type":"nominal","scale":{"domain":["MDC-OMC","MDC"],"range":["square","circle"]},"legend":null}}},
     {"data":{"name":"eleg"},"mark":{"type":"text","align":"left","baseline":"middle","fontSize":14},
      "encoding":{"x":{"field":"xt","type":"quantitative"},"y":{"field":"y","type":"quantitative"},"text":{"field":"s"}}}
    ]},
   {"width":142,"height":210,
    "layer":[
     {"data":{"name":"nyq"},"mark":{"type":"line","strokeWidth":1.2,"clip":true},
      "encoding":{
       "x":{"field":"x","type":"quantitative","scale":{"domain":[0,1.2],"nice":false,"zero":false},"axis":{"title":"Z' (Ω)","values":[0,0.2,0.4,0.6,0.8,1,1.2],"labelExpr":"round(datum.value*10)%4===0 ? format(datum.value,'.1f') : ''","tickSize":{"condition":{"test":"round(datum.value*10)%4!==0","value":-3},"value":-5}}},
       "y":{"field":"y","type":"quantitative","scale":{"domain":[0,1.8],"nice":false,"zero":false},"axis":{"title":null,"values":[0,0.3,0.6,0.9,1.2,1.5,1.8],"labelExpr":"round(datum.value*10)%6===0 ? format(datum.value,'.1f') : ''","tickSize":{"condition":{"test":"round(datum.value*10)%6!==0","value":-3},"value":-5}}},
       "color":{"field":"s","type":"nominal","scale":{"domain":["MDC-OMC","MDC"],"range":["#1a1aeb","#f5891f"]},"legend":null},
       "order":{"field":"i","type":"quantitative"}}},
     {"data":{"name":"nyq"},"mark":{"type":"point","filled":true,"size":50,"opacity":1,"clip":true},
      "encoding":{"x":{"field":"x","type":"quantitative"},"y":{"field":"y","type":"quantitative"},
       "color":{"field":"s","type":"nominal","scale":{"domain":["MDC-OMC","MDC"],"range":["#1a1aeb","#f5891f"]},"legend":null},
       "shape":{"field":"s","type":"nominal","scale":{"domain":["MDC-OMC","MDC"],"range":["square","circle"]},"legend":null}}},
     {"data":{"name":"eann"},"mark":{"type":"rule","strokeWidth":1},
      "encoding":{"x":{"field":"x","type":"quantitative"},"x2":{"field":"x2"},"y":{"field":"y","type":"quantitative"},"y2":{"field":"y2"},
       "color":{"field":"s","type":"nominal","scale":{"domain":["MDC-OMC","MDC"],"range":["#1a1aeb","#f5891f"]},"legend":null}}},
     {"data":{"name":"eann"},"transform":[{"filter":"datum.s==='MDC'"}],"mark":{"type":"point","shape":"triangle-left","filled":true,"size":28,"angle":18,"opacity":1},
      "encoding":{"x":{"field":"x2","type":"quantitative"},"y":{"field":"y2","type":"quantitative"},
       "color":{"field":"s","type":"nominal","scale":{"domain":["MDC-OMC","MDC"],"range":["#1a1aeb","#f5891f"]},"legend":null}}},
     {"data":{"name":"eann"},"transform":[{"filter":"datum.s==='MDC-OMC'"}],"mark":{"type":"point","shape":"triangle-left","filled":true,"size":28,"opacity":1},
      "encoding":{"x":{"field":"x2","type":"quantitative"},"y":{"field":"y2","type":"quantitative"},
       "color":{"field":"s","type":"nominal","scale":{"domain":["MDC-OMC","MDC"],"range":["#1a1aeb","#f5891f"]},"legend":null}}},
     {"data":{"name":"eann"},"mark":{"type":"text","align":"right","baseline":"middle","fontSize":14},
      "encoding":{"x":{"field":"tx","type":"quantitative"},"y":{"field":"ty","type":"quantitative"},"text":{"field":"label"}}}
    ]}
  ]},
  {"width":284,"height":210,"title":{"text":"f","dx":-62,"offset":-2},
   "resolve":{"scale":{"x":"independent","y":"independent"}},
   "layer":[
    {"layer":[
     {"data":{"name":"cyc"},"mark":{"type":"line","strokeWidth":9,"color":"#1a1aeb"},
      "encoding":{
       "x":{"field":"c","type":"quantitative","scale":{"domain":[0,7200],"nice":false,"zero":false},"axis":{"title":"Cycle number","orient":"bottom","labelFontSize":14,"titleFontSize":15,"values":[1500,3000,4500,6000],"format":",d","labelColor":"black","labelOpacity":1}},
       "y":{"field":"y","type":"quantitative","scale":{"domain":[0,280],"nice":false,"zero":false},"axis":{"title":"Gravimetric capacitance (F g⁻¹)","orient":"left","values":[0,50,100,150,200,250],"labelExpr":"datum.value%100===0 ? datum.label : ''","tickSize":{"condition":{"test":"datum.value%100!==0","value":-3},"value":-5}}}}},
     {"data":{"name":"cyc"},"mark":{"type":"square","size":45,"color":"#1a1aeb","opacity":1},
      "encoding":{"x":{"field":"c","type":"quantitative"},"y":{"field":"y","type":"quantitative"}}},
     {"data":{"name":"fline"},"mark":{"type":"rule","strokeWidth":1,"color":"#1a1aeb"},
      "encoding":{"x":{"field":"x1","type":"quantitative"},"x2":{"field":"x2"},"y":{"field":"y","type":"quantitative"}}},
     {"data":{"name":"fline"},"mark":{"type":"square","size":45,"color":"#1a1aeb","opacity":1},
      "encoding":{"x":{"field":"xm","type":"quantitative"},"y":{"field":"y","type":"quantitative"}}},
     {"data":{"name":"ftext"},"mark":{"type":"text","align":"left","baseline":"middle","fontSize":14},
      "encoding":{"x":{"field":"c","type":"quantitative"},"y":{"field":"y","type":"quantitative"},"text":{"field":"label"}}}
    ]},
    {"layer":[
     {"data":{"values":[{}]},"mark":{"type":"rect","fill":"white","stroke":"black","strokeWidth":1},
      "encoding":{"x":{"datum":0,"type":"quantitative"},"x2":{"datum":115},"y":{"datum":-1.0,"type":"quantitative"},"y2":{"datum":0.06}}},
     {"data":{"name":"ins"},"mark":{"type":"line","strokeWidth":1.3,"color":"#3434e0"},
      "encoding":{
       "x":{"field":"t","type":"quantitative","scale":{"domain":[0,115],"range":[73,244],"nice":false,"zero":false},"axis":{"title":"Time (s)","orient":"top","offset":-178,"labelFontSize":11,"titleFontSize":11,"labelPadding":-10,"labelBaseline":"top","titleBaseline":"top","titleY":17,"values":[0,12.5,25,37.5,50,62.5,75,87.5,100,112.5],"labelExpr":"datum.value%25===0 ? datum.label : ''","tickSize":{"condition":{"test":"datum.value%25!==0","value":2},"value":4}}},
       "y":{"field":"v","type":"quantitative","scale":{"domain":[-1.0,0.06],"range":[178,51],"nice":false,"zero":false},"axis":{"title":"Potential (V versus SCE)","orient":"right","offset":-211,"labelFontSize":11,"titleFontSize":11,"labelPadding":-17,"labelAlign":"right","titleAngle":270,"titleBaseline":"bottom","titleX":-30,"values":[-1,-0.8,-0.6,-0.4,-0.2,0],"labelExpr":"round(datum.value*10)%4===0 ? format(datum.value,'.1f') : ''","tickSize":{"condition":{"test":"round(datum.value*10)%4!==0","value":2},"value":4}}},
       "strokeDash":{"field":"s","type":"nominal","scale":{"domain":["1st","7,000th"],"range":[[1,0],[2,3]]},"legend":null},
       "order":{"field":"i","type":"quantitative"}}},
     {"data":{"name":"insleg"},"mark":{"type":"rule","strokeWidth":1.3,"color":"#3434e0"},
      "encoding":{"x":{"field":"x1","type":"quantitative"},"x2":{"field":"x2"},"y":{"field":"y","type":"quantitative"},
       "strokeDash":{"field":"s","type":"nominal","scale":{"domain":["1st","7,000th"],"range":[[1,0],[2,3]]},"legend":null}}},
     {"data":{"name":"insleg"},"mark":{"type":"text","align":"left","baseline":"middle","fontSize":14},
      "encoding":{"x":{"field":"xt","type":"quantitative"},"y":{"field":"y","type":"quantitative"},"text":{"field":"s"}}}
    ]}
   ]}
 ]}
]
}
